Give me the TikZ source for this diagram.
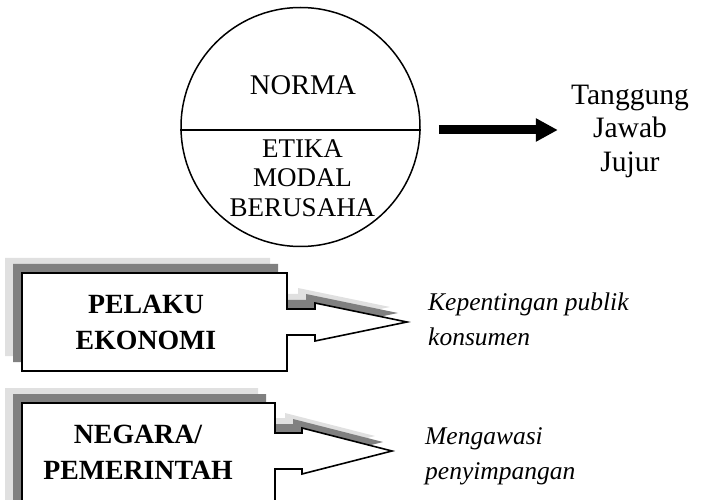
\documentclass[tikz,border=0pt]{standalone}
\usepackage{fontspec}
\setmainfont{Liberation Serif}
\usetikzlibrary{arrows.meta,positioning}
\begin{document}
\begin{tikzpicture}[x=1pt, y=-1pt,
    main/.style = {draw=none, inner sep=0pt, align=center, font=\fontsize{27}{29.5}\selectfont},
    boxtext/.style = {inner sep=0pt, align=center, font=\fontsize{27.8}{36}\selectfont\bfseries},
    note/.style = {inner sep=0pt, align=left, font=\fontsize{25.5}{35}\selectfont\itshape},
    lightshade/.style = {fill=black!12, draw=none},
    darkshade/.style = {fill=black!50, draw=none},
    frontbox/.style = {fill=white, draw=black, line width=1.6pt},
    bigarrow/.style = {line width=9pt, -{Triangle[length=22pt, width=22pt]}}]
    \useasboundingbox (0,0) rectangle (716,500);

    % circle with its two parts
    \node[draw, circle, line width=1.5pt, minimum size=239pt, inner sep=0pt] (circ) at (300.5,127) {};
    \draw[line width=1.8pt] ([yshift=-3pt]circ.west) -- ([yshift=-3pt]circ.east);
    \node[main, anchor=base, font=\fontsize{28.5}{30}\selectfont] (norma) at (303,95) {NORMA};
    \node[main] (etika) at (302.5,178) {ETIKA\\MODAL\\BERUSAHA};

    \node[main, font=\fontsize{29.6}{33.5}\selectfont] (tj) at (630,131) {Tanggung\\Jawab\\Jujur};
    \draw[bigarrow, shorten <=18pt, shorten >=13pt] ([yshift=-3pt]circ.east) -- ([yshift=-3pt]circ.east -| tj.west);

    % callout boxes with two shades
    \foreach \dx/\dy/\sty in {-17/-15/lightshade, -9/-9/darkshade, 0/0/frontbox} {
        \path[\sty, shift={(\dx,\dy)}] (22,273) -- (287,273) -- (287,309) -- (315,309) -- (315,303)
            -- (407,322) -- (315,341) -- (315,335) -- (287,335) -- (287,371) -- (22,371) -- cycle;
        \path[\sty, shift={(\dx,\dy)}] (22,403) -- (275,403) -- (275,433) -- (302,433) -- (302,428)
            -- (392,451) -- (302,474) -- (302,469) -- (275,469) -- (275,520) -- (22,520) -- cycle;
    }

    \node[boxtext] (pelaku) at (146,322) {PELAKU\\EKONOMI};
    \node[boxtext] (negara) at (138,452) {NEGARA/\\PEMERINTAH};

    \node[note, anchor=west] (publik) at (428,319) {Kepentingan publik\\konsumen};
    \node[note, anchor=west] (awasi) at (425,456) {Mengawasi\\penyimpangan};
\end{tikzpicture}
\end{document}
